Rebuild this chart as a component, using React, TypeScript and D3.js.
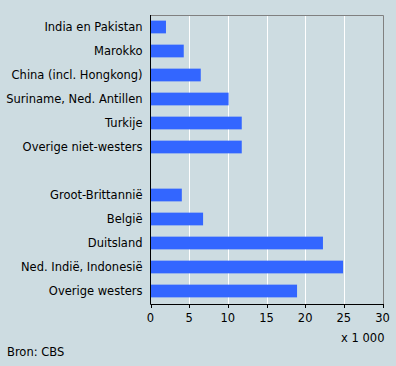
import React, { useRef, useEffect } from "react";
import * as d3 from "d3";

const categories = [
  "India en Pakistan",
  "Marokko",
  "China (incl. Hongkong)",
  "Suriname, Ned. Antillen",
  "Turkije",
  "Overige niet-westers",
  "",
  "Groot-Brittannië",
  "België",
  "Duitsland",
  "Ned. Indië, Indonesië",
  "Overige westers",
];
const values = [2.0, 4.3, 6.5, 10.1, 11.8, 11.8, null, 4.05, 6.8, 22.3, 24.9, 18.95];
const xTicks = [0, 5, 10, 15, 20, 25, 30];

const W = 396;
const H = 366;

const App: React.FC = () => {
  const svgRef = useRef<SVGSVGElement | null>(null);

  useEffect(() => {
    const svg = d3.select(svgRef.current);
    svg.selectAll("*").remove();

    const left = 150.5;
    const right = 382.5;
    const top = 15;
    const bottom = 304;
    const font = "DejaVu Sans, Verdana, sans-serif";
    const fs = 11.5;

    svg.append("rect").attr("width", W).attr("height", H).attr("fill", "#cddce1");

    const x = d3.scaleLinear().domain([0, 30]).range([left, right]);
    const y = d3
      .scaleBand<number>()
      .domain(d3.range(categories.length))
      .range([top, top + 24 * categories.length])
      .paddingInner(0.47)
      .paddingOuter(0.235);

    // gridlines
    svg
      .selectAll("line.grid")
      .data(xTicks.filter((t) => t > 0 && t < 30))
      .enter()
      .append("line")
      .attr("x1", (d) => Math.round(x(d)) + 0.5)
      .attr("x2", (d) => Math.round(x(d)) + 0.5)
      .attr("y1", top)
      .attr("y2", bottom)
      .attr("stroke", "#ffffff")
      .attr("stroke-width", 1);

    // frame (top and right)
    svg
      .append("path")
      .attr("d", `M${left},${top + 0.5}H${Math.round(right) + 0.5}V${bottom}`)
      .attr("fill", "none")
      .attr("stroke", "#808080");

    // bars
    svg
      .selectAll("rect.bar")
      .data(values.map((v, i) => ({ v, i })).filter((d) => d.v != null))
      .enter()
      .append("rect")
      .attr("x", x(0))
      .attr("y", (d) => y(d.i)!)
      .attr("width", (d) => x(d.v as number) - x(0))
      .attr("height", y.bandwidth())
      .attr("fill", "#3366ff");

    // category labels
    svg
      .selectAll("text.cat")
      .data(categories)
      .enter()
      .append("text")
      .attr("x", left - 8)
      .attr("y", (_, i) => y(i)! + y.bandwidth() / 2)
      .attr("dy", "0.35em")
      .attr("text-anchor", "end")
      .attr("font-family", font)
      .attr("font-size", fs)
      .attr("fill", "#000")
      .text((d) => d);

    // axes lines
    svg
      .append("line")
      .attr("x1", left)
      .attr("x2", left)
      .attr("y1", top)
      .attr("y2", bottom + 0.5)
      .attr("stroke", "#000");
    svg
      .append("line")
      .attr("x1", left)
      .attr("x2", Math.round(right) + 1)
      .attr("y1", bottom + 0.5)
      .attr("y2", bottom + 0.5)
      .attr("stroke", "#000");

    const tick = svg.selectAll("g.tick").data(xTicks).enter().append("g");
    tick
      .append("line")
      .attr("x1", (d) => Math.round(x(d)) + 0.5)
      .attr("x2", (d) => Math.round(x(d)) + 0.5)
      .attr("y1", bottom)
      .attr("y2", bottom + 4)
      .attr("stroke", "#000");
    tick
      .append("text")
      .attr("x", (d) => x(d))
      .attr("y", bottom + 18)
      .attr("text-anchor", "middle")
      .attr("font-family", font)
      .attr("font-size", fs)
      .text((d) => d);

    svg
      .append("text")
      .attr("x", right + 2)
      .attr("y", bottom + 38)
      .attr("text-anchor", "end")
      .attr("font-family", font)
      .attr("font-size", fs)
      .text("x 1 000");

    svg
      .append("text")
      .attr("x", 7)
      .attr("y", bottom + 52)
      .attr("font-family", font)
      .attr("font-size", fs)
      .text("Bron: CBS");
  }, []);

  return (
    <svg
      ref={svgRef}
      width={W}
      height={H}
      style={{ position: "absolute", left: 0, top: 0, display: "block" }}
    />
  );
};

export default App;
